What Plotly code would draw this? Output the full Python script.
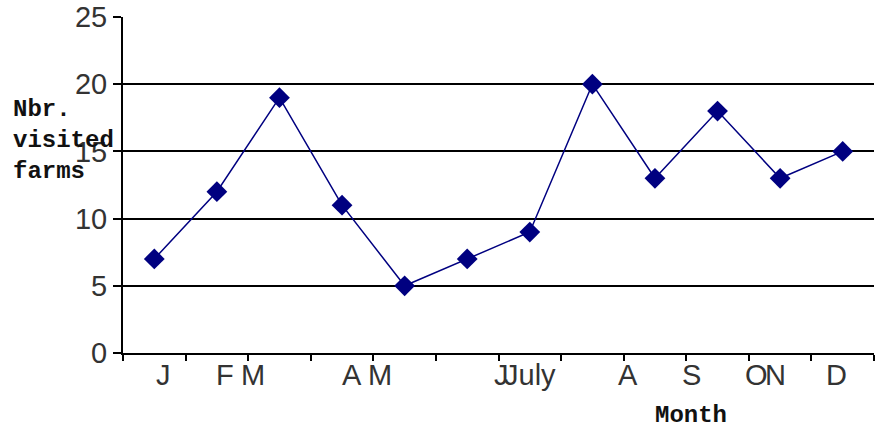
import plotly.graph_objects as go

# Farms visited per month
months = list(range(1, 13))
visits = [7, 12, 19, 11, 5, 7, 9, 20, 13, 18, 13, 15]

# Month labels along the category axis and where each one sits (category units)
month_labels = ["J", "F", "M", "A", "M", "J", "July", "A", "S", "O", "N", "D"]
label_pos = [1.14, 2.13, 2.58, 4.16, 4.6, 6.55, 7.0, 8.57, 9.59, 10.63, 10.92, 11.9]

y_ticks = [0, 5, 10, 15, 20, 25]

NAVY = "#000080"
AXIS_FONT = dict(family="Liberation Sans, Arial, sans-serif", size=29, color="#333333")
TITLE_FONT = dict(family="Liberation Mono, Courier New, monospace", size=24, color="#111111")

fig = go.Figure()
fig.add_trace(go.Scatter(
    x=months,
    y=visits,
    mode="lines+markers",
    line=dict(color=NAVY, width=1.5),
    marker=dict(symbol="diamond", size=16, color=NAVY),
    showlegend=False,
))

for lbl, pos in zip(month_labels, label_pos):
    fig.add_annotation(
        x=pos, y=-0.066, xref="x", yref="paper",
        text=lbl, showarrow=False,
        xanchor="center", yanchor="middle",
        font=AXIS_FONT,
    )

fig.add_annotation(
    x=-112 / 751, y=0.632, xref="paper", yref="paper",
    text="<b>Nbr.</b><br><b>visited</b><br><b>farms</b>",
    showarrow=False, align="left",
    xanchor="left", yanchor="middle",
    font=TITLE_FONT,
)

fig.add_annotation(
    x=0.756, y=-0.185, xref="paper", yref="paper",
    text="<b>Month</b>", showarrow=False,
    xanchor="center", yanchor="middle",
    font=TITLE_FONT,
)

fig.update_xaxes(
    range=[0.5, 12.5],
    tickvals=[m - 0.5 for m in months] + [12.5],
    ticktext=[""] * 13,
    ticks="outside", ticklen=6, tickwidth=1.5, tickcolor="black",
    showline=True, linecolor="black", linewidth=2,
    showgrid=False, zeroline=False,
)

fig.update_yaxes(
    range=[0, 25],
    tickvals=y_ticks,
    ticks="outside", ticklen=8, tickwidth=2, tickcolor="black",
    tickfont=AXIS_FONT,
    showline=True, linecolor="black", linewidth=2,
    showgrid=True, gridcolor="black", gridwidth=2,
    zeroline=False,
)

fig.update_layout(
    width=876, height=430,
    margin=dict(l=123, r=2, t=17, b=77),
    paper_bgcolor="white", plot_bgcolor="white",
)

fig.write_html("out.html")
